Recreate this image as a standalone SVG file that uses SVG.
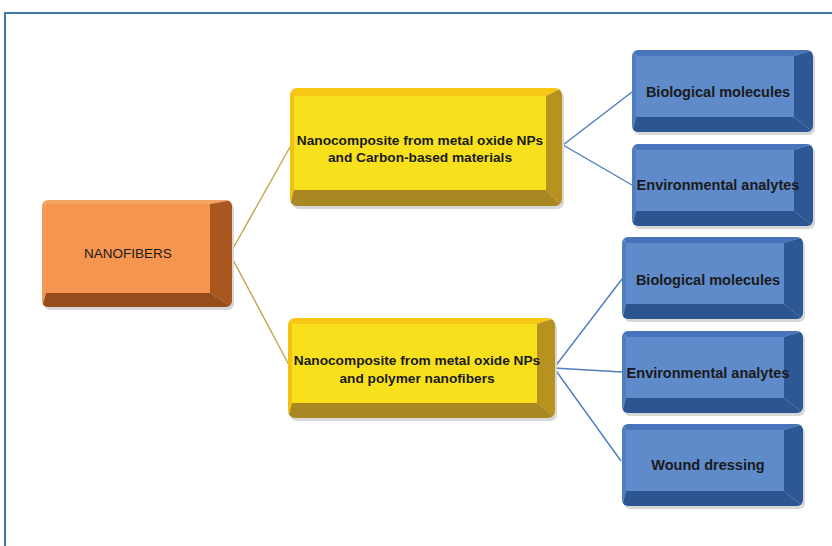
<svg xmlns="http://www.w3.org/2000/svg" width="832" height="546" viewBox="0 0 832 546">
<style>
  .lbl { font-family: "Liberation Sans", Arial, sans-serif; fill: #1a1a1a; text-anchor: middle; }
  .b { font-weight: bold; }
  .gold { stroke: #c4a548; stroke-width: 1.4; fill: none; }
  .blu { stroke: #4d7dbd; stroke-width: 1.4; fill: none; }
  .o-t { fill: #f6a462; } .o-l { fill: #f39a55; } .o-r { fill: #a9561f; } .o-b { fill: #974c1c; } .o-f { fill: #f5954f; }
  .y-t { fill: #f8c614; } .y-l { fill: #f3c10f; } .y-r { fill: #b8921f; } .y-b { fill: #a98824; } .y-f { fill: #f8e11c; }
  .u-t { fill: #4874bb; } .u-l { fill: #4f7dc2; } .u-r { fill: #2e5795; } .u-b { fill: #2d5591; } .u-f { fill: #5f8bcb; }
  .sh { fill: #d8d8d8; }
</style>
<defs>
  <clipPath id="cpO"><rect x="0" y="0" width="190" height="107" rx="6"/></clipPath>
  <clipPath id="cpY1"><rect x="0" y="0" width="272" height="118" rx="7"/></clipPath>
  <clipPath id="cpY2"><rect x="0" y="0" width="267" height="100" rx="7"/></clipPath>
  <clipPath id="cpB"><rect x="0" y="0" width="181" height="82" rx="6"/></clipPath>
  <g id="blueBox">
    <rect class="sh" x="2" y="3" width="181" height="82" rx="6"/>
    <g clip-path="url(#cpB)">
      <polygon class="u-t" points="0,0 181,0 162,6 4,6"/>
      <polygon class="u-l" points="0,0 4,6 4,67 0,82"/>
      <polygon class="u-r" points="181,0 181,82 162,67 162,6"/>
      <polygon class="u-b" points="0,82 4,67 162,67 181,82"/>
      <rect class="u-f" x="4" y="6" width="158" height="61"/>
    </g>
  </g>
</defs>
<rect x="0" y="0" width="832" height="546" fill="#ffffff"/>
<rect x="5" y="13" width="840" height="560" fill="none" stroke="#3b7aa8" stroke-width="2"/>

<g id="connectors">
  <line class="gold" x1="231" y1="252" x2="290" y2="147"/>
  <line class="gold" x1="231" y1="256" x2="289" y2="365"/>
  <line class="blu" x1="563" y1="145" x2="632" y2="92"/>
  <line class="blu" x1="563" y1="145" x2="632" y2="185"/>
  <line class="blu" x1="554" y1="368" x2="622" y2="279"/>
  <line class="blu" x1="554" y1="368" x2="622" y2="372"/>
  <line class="blu" x1="554" y1="368" x2="621" y2="461"/>
</g>

<g id="nanofibers" transform="translate(42,200)">
  <rect class="sh" x="2" y="3" width="190" height="107" rx="6"/>
  <g clip-path="url(#cpO)">
    <polygon class="o-t" points="0,0 190,0 168,4 4,4"/>
    <polygon class="o-l" points="0,0 4,4 4,93 0,107"/>
    <polygon class="o-r" points="190,0 190,107 168,93 168,4"/>
    <polygon class="o-b" points="0,107 4,93 168,93 190,107"/>
    <rect class="o-f" x="4" y="4" width="164" height="89"/>
  </g>
  <text class="lbl" x="86" y="58" font-size="13.5">NANOFIBERS</text>
</g>

<g id="nano-carbon" transform="translate(290,88)">
  <rect class="sh" x="2" y="3" width="272" height="118" rx="7"/>
  <g clip-path="url(#cpY1)">
    <polygon class="y-t" points="0,0 272,0 256,8 4,8"/>
    <polygon class="y-l" points="0,0 4,8 4,102 0,118"/>
    <polygon class="y-r" points="272,0 272,118 256,102 256,8"/>
    <polygon class="y-b" points="0,118 4,102 256,102 272,118"/>
    <rect class="y-f" x="4" y="8" width="252" height="94"/>
  </g>
  <text class="lbl b" x="130" y="57" font-size="13.7">Nanocomposite from metal oxide NPs</text>
  <text class="lbl b" x="130" y="74" font-size="13.7">and Carbon-based materials</text>
</g>

<g id="nano-polymer" transform="translate(288,318)">
  <rect class="sh" x="2" y="3" width="267" height="100" rx="7"/>
  <g clip-path="url(#cpY2)">
    <polygon class="y-t" points="0,0 267,0 249,6 4,6"/>
    <polygon class="y-l" points="0,0 4,6 4,85 0,100"/>
    <polygon class="y-r" points="267,0 267,100 249,85 249,6"/>
    <polygon class="y-b" points="0,100 4,85 249,85 267,100"/>
    <rect class="y-f" x="4" y="6" width="245" height="79"/>
  </g>
  <text class="lbl b" x="129" y="47" font-size="13.7">Nanocomposite from metal oxide NPs</text>
  <text class="lbl b" x="129" y="65" font-size="13.7">and polymer nanofibers</text>
</g>

<g id="bio1" transform="translate(632,50)">
  <use href="#blueBox"/>
  <text class="lbl b" x="86" y="47" font-size="14.5">Biological molecules</text>
</g>
<g id="env1" transform="translate(632,144)">
  <use href="#blueBox"/>
  <text class="lbl b" x="86" y="46" font-size="14.5">Environmental analytes</text>
</g>
<g id="bio2" transform="translate(622,237)">
  <use href="#blueBox"/>
  <text class="lbl b" x="86" y="48" font-size="14.5">Biological molecules</text>
</g>
<g id="env2" transform="translate(622,331)">
  <use href="#blueBox"/>
  <text class="lbl b" x="86" y="47" font-size="14.5">Environmental analytes</text>
</g>
<g id="wound" transform="translate(622,424)">
  <use href="#blueBox"/>
  <text class="lbl b" x="86" y="46" font-size="14.5">Wound dressing</text>
</g>
</svg>
